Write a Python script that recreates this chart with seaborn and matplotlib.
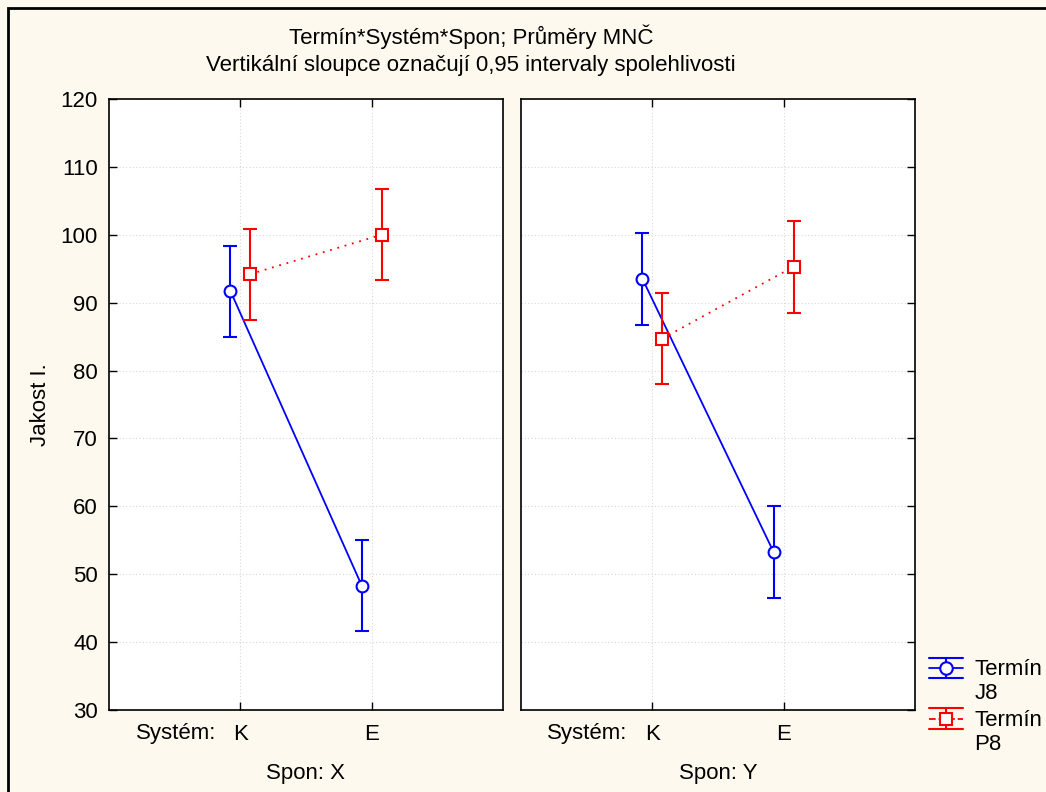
import numpy as np
import pandas as pd
import matplotlib
matplotlib.use("Agg")
import matplotlib.pyplot as plt
from matplotlib.patches import Rectangle
from matplotlib.lines import Line2D
from matplotlib.legend_handler import HandlerBase
import seaborn as sns

# values
systems = ["K", "E"]
spons = ["X", "Y"]
terms = ["J8", "P8"]

j8_mean_x = [91.7, 48.3]
j8_low_x = [84.9, 41.6]
j8_high_x = [98.4, 55.1]
p8_mean_x = [94.2, 100.0]
p8_low_x = [87.4, 93.3]
p8_high_x = [100.8, 106.8]

j8_mean_y = [93.5, 53.2]
j8_low_y = [86.7, 46.5]
j8_high_y = [100.2, 60.0]
p8_mean_y = [84.7, 95.3]
p8_low_y = [78.0, 88.5]
p8_high_y = [91.4, 102.0]

y_ticks = [30, 40, 50, 60, 70, 80, 90, 100, 110, 120]

BG = "#fef9ee"
FS = 16
styles = {
    "J8": dict(color="#0000ff", marker="o", ls="-", off=-0.075),
    "P8": dict(color="#ff0000", marker="s", ls=(0, (1, 3.2)), off=0.075),
}


def build_frame() -> pd.DataFrame:
    rows = []
    vals = {
        ("X", "J8"): (j8_mean_x, j8_low_x, j8_high_x),
        ("X", "P8"): (p8_mean_x, p8_low_x, p8_high_x),
        ("Y", "J8"): (j8_mean_y, j8_low_y, j8_high_y),
        ("Y", "P8"): (p8_mean_y, p8_low_y, p8_high_y),
    }
    for (spon, term), (m, lo, hi) in vals.items():
        for i, s in enumerate(systems):
            rows.append(dict(spon=spon, term=term, system=s, pos=i,
                             mean=m[i], low=lo[i], high=hi[i]))
    return pd.DataFrame(rows)


class ErrHandler(HandlerBase):
    # statistica-like legend key: full-width caps, line, marker on first text line
    def create_artists(self, legend, orig_handle, xdescent, ydescent, width, height, fontsize, trans):
        c = orig_handle.get_color()
        yc = 0.5 * height - ydescent + 0.62 * fontsize
        half = 0.47 * fontsize
        x0, x1 = -xdescent, width - xdescent
        xm = 0.5 * (x0 + x1)
        arts = [
            Line2D([x0, x1], [yc, yc], color=c, ls=orig_handle.get_linestyle(), lw=1.3),
            Line2D([x0, x1], [yc + half, yc + half], color=c, lw=1.5),
            Line2D([x0, x1], [yc - half, yc - half], color=c, lw=1.5),
            Line2D([xm, xm], [yc - half, yc + half], color=c, lw=1.5),
            Line2D([xm], [yc], color=c, marker=orig_handle.get_marker(), mfc="white",
                   mec=c, ms=9, mew=1.5, ls="none"),
        ]
        for a in arts:
            a.set_transform(trans)
        return arts


def draw_panel(ax, data: pd.DataFrame):
    ax.set_facecolor("white")
    for term in terms:
        st = styles[term]
        d = data[data["term"] == term]
        xs = d["pos"] + st["off"]
        sns.lineplot(x=xs.values, y=d["mean"].values, ax=ax, color=st["color"],
                     linestyle=st["ls"], lw=1.3, zorder=2)
        ax.errorbar(xs, d["mean"], yerr=[d["mean"] - d["low"], d["high"] - d["mean"]],
                    fmt=st["marker"], color=st["color"], mfc="white", mec=st["color"],
                    ms=8.5, mew=1.5, elinewidth=1.5, capsize=5, capthick=1.5, zorder=3)

    ax.set_xlim(-1, 2)
    ax.set_ylim(30, 120)
    ax.set_xticks([0, 1])
    ax.set_xticklabels(systems)
    ax.set_yticks(y_ticks)
    ax.grid(True, color="#d8d8d8", ls=(0, (1, 2)), lw=0.8)
    ax.set_axisbelow(True)
    for sp in ax.spines.values():
        sp.set_color("black")
        sp.set_linewidth(1.2)
    ax.tick_params(direction="in", length=6, width=1.0, labelsize=FS,
                   top=True, bottom=True, pad=10, colors="black")
    ax.set_xlabel("")
    ax.set_ylabel("")


sns.set_style("white")
plt.rcParams["font.family"] = ["Liberation Sans", "DejaVu Sans"]
plt.rcParams["text.color"] = "black"
plt.rcParams["axes.labelcolor"] = "black"

df = build_frame()

fig = plt.figure(figsize=(10.46, 7.92), dpi=100)
fig.patch.set_facecolor(BG)

ax1 = fig.add_axes([109 / 1046, 1 - 710 / 792, 394 / 1046, 611 / 792])
ax2 = fig.add_axes([521 / 1046, 1 - 710 / 792, 394 / 1046, 611 / 792])

draw_panel(ax1, df[df["spon"] == "X"])
draw_panel(ax2, df[df["spon"] == "Y"])

ax1.tick_params(axis="y", left=True, right=False, labelleft=True, pad=8)
ax2.tick_params(axis="y", left=False, right=True, labelleft=False)

ax1.set_ylabel("Jakost I.", fontsize=FS, labelpad=7)

fig.text(471 / 1046, 1 - 37 / 792, "Termín*Systém*Spon; Průměry MNČ",
         ha="center", va="center", fontsize=FS)
fig.text(471 / 1046, 1 - 66 / 792, "Vertikální sloupce označují 0,95 intervaly spolehlivosti",
         ha="center", va="center", fontsize=FS)

for x in [176, 587]:
    fig.text(x / 1046, 1 - 733 / 792, "Systém:", ha="center", va="center", fontsize=FS)
for x, s in zip([306, 718], spons):
    fig.text(x / 1046, 1 - 773 / 792, f"Spon: {s}", ha="center", va="center", fontsize=FS)

# legend proxies
handles = [Line2D([], [], color=styles[t]["color"], marker=styles[t]["marker"],
                  ls=styles[t]["ls"]) for t in terms]
fig.legend(handles, [f"Termín\n{t}" for t in terms], loc="upper left",
           bbox_to_anchor=(909 / 1046, 1 - 639 / 792), frameon=False, fontsize=FS,
           handlelength=1.55, handletextpad=0.5, labelspacing=0.25,
           handler_map={Line2D: ErrHandler()})

fig.patches.append(Rectangle((8 / 1046, -0.1), 1.2, 1.1 - 8 / 792, transform=fig.transFigure,
                             fill=False, lw=2, ec="black"))

fig.savefig("out.png", dpi=100, facecolor=BG)
